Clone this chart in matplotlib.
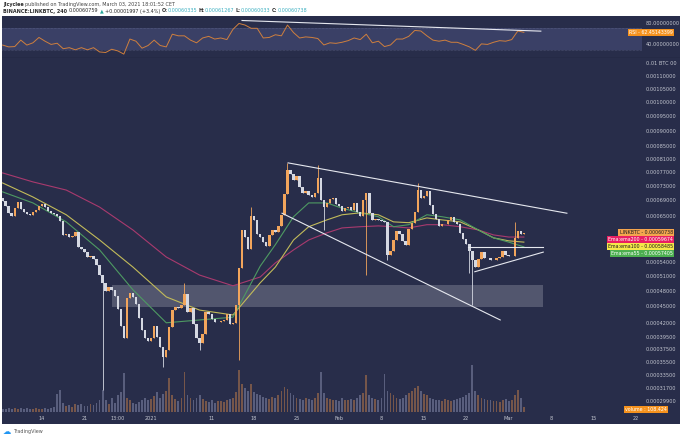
import matplotlib.pyplot as plt
import numpy as np
from matplotlib.patches import Rectangle
from matplotlib.ticker import NullLocator
from matplotlib.transforms import offset_copy

# prices in 1e-6 BTC, one candle per 12h, day 0 = Dec 14 2020
close = [688, 675, 656, 649, 669, 686, 667, 659, 654, 652,
         659, 664, 675, 680, 672, 662, 657, 654, 649, 637,
         602, 604, 597, 600, 609, 574, 569, 562, 551, 553,
         546, 533, 512, 496, 480, 488, 482, 470, 445, 414,
         393, 466, 476, 468, 454, 429, 407, 393, 388, 393,
         414, 395, 379, 363, 374, 412, 443, 449, 447, 452,
         474, 439, 447, 418, 393, 385, 400, 439, 436, 427,
         421, 421, 423, 425, 436, 418, 420, 452, 527, 614,
         597, 569, 649, 639, 604, 597, 585, 576, 602, 614,
         609, 624, 652, 707, 776, 764, 747, 759, 727, 710,
         715, 705, 699, 710, 753, 691, 672, 683, 694, 696,
         680, 675, 662, 669, 672, 664, 683, 659, 649, 691,
         710, 657, 639, 642, 639, 637, 634, 555, 565, 590,
         612, 604, 588, 579, 617, 632, 659, 718, 696, 702,
         715, 677, 654, 642, 624, 629, 629, 639, 647, 634,
         629, 607, 592, 581, 565, 544, 529, 546, 562, 548,
         548, 544, 544, 548, 551, 565, 555, 553, 553, 595,
         612, 604, 607]
open_first = 695
wick_high = {60: 496, 82: 672, 94: 797, 104: 791, 137: 738, 169: 634}
wick_low = {33: 314, 53: 347, 65: 374, 78: 358, 106: 614, 120: 512,
            127: 544, 154: 517, 155: 452}

volume = [70, 60, 90, 55, 80, 65, 75, 60, 85, 70, 60, 95, 70, 65, 80, 60, 75, 110,
          380, 460, 200,
          120, 150, 110, 180, 140, 160, 120, 130, 170, 150, 200, 260,
          470,
          250, 180, 300, 200, 350, 420,
          830,
          300, 250, 200, 180, 220, 260, 300,
          250, 280, 330, 420, 300, 380, 450, 720,
          350, 280, 240, 300, 850, 350, 300,
          260, 300, 350, 280, 240, 220, 260, 200, 240, 230, 210, 250, 280, 300, 420,
          900,
          600, 500, 450, 600, 420, 380, 350, 320, 300, 280, 320, 300,
          350, 450, 520, 480, 400, 350, 300, 280, 260, 300, 280, 250, 300, 400,
          850, 400, 300, 280, 260, 250, 240, 300, 260, 250, 280, 260, 300, 350, 400,
          780,
          350, 300, 280, 260, 300, 800, 450,
          400, 350, 300, 280, 300, 350, 400, 450, 500, 550, 450, 380, 350,
          300, 280, 260, 250, 240, 280, 260, 240, 250, 270, 300, 320, 350, 400,
          1000,
          450, 350, 300, 280, 250, 260, 240, 230, 220, 250, 280, 240, 260, 350, 470, 300, 110]

ema_days = [-6.5, -1.5, 4, 9.5, 15, 20.5, 26, 31.5, 36, 38.5, 41.5, 44, 47,
            49.5, 52.5, 55.5, 58, 60.5, 63.5, 66, 69, 72, 74.5, 77, 79.5]
ema200 = [767, 741, 718, 672, 614, 551, 512, 490, 508, 538, 567, 590, 607,
          619, 622, 624, 622, 619, 627, 627, 622, 614, 602, 597, 597]
ema100 = [738, 699, 652, 590, 529, 468, 443, 434, 496, 529, 590, 622, 639,
          652, 657, 652, 634, 632, 644, 639, 634, 614, 595, 588, 585]
ema55 = [713, 683, 634, 567, 482, 420, 425, 430, 531, 579, 647, 683, 683,
         669, 657, 647, 622, 627, 652, 647, 639, 614, 595, 585, 574]

# daily RSI(14)
rsi = [38.8, 35.4, 36, 48, 38.8, 43, 53, 46, 40, 42.2,
       32, 34, 30, 34, 30, 34, 26, 25, 31, 28,
       22, 50, 46, 33, 38, 48, 38, 35.4, 59, 56,
       56, 48, 43, 52, 55, 50, 52, 49, 68, 79,
       76, 70, 70, 52, 53, 58, 56, 76, 62, 52,
       54, 53, 51, 39, 43, 42, 44, 47, 52, 49,
       59, 43, 46, 36, 39, 50, 50, 55, 66, 65,
       56, 48, 46, 48, 44, 44, 40, 35.5, 29, 41,
       40, 44, 47, 46, 49, 65, 62.5]

price_ticks = [1153, 1100, 1050, 1000, 950, 900, 850, 810, 770, 730, 690, 650,
               540, 510, 480, 450, 420, 395, 375, 355, 335, 317, 299]
price_labels = ['0.01 BTC 00'] + ['%.8f' % (v * 1e-6) for v in price_ticks[1:]]
date_ticks = [0, 7, 12.54, 18, 28, 35, 42, 49, 56, 63, 70, 77, 84, 91, 98]
date_labels = ['14', '21', '13:00', '2021', '11', '18', '25', 'Feb', '8', '15',
               '22', 'Mar', '8', '15', '22']

zone = (11.5, 82.7, 449, 492)
trend_lines = [((40.6, 797), (86.6, 656)),
               ((39.6, 656), (75.6, 425)),
               ((70.3, 574), (82.7, 574)),
               ((71.4, 519), (82.7, 562))]
rsi_trend = ((33.0, 84.5), (82.3, 64.7))

last_labels = [('LINKBTC - 0.00060738', '#f4a54e', '#1b1b1b'),
               ('Ema:ema200 - 0.00059674', '#e91e63', 'white'),
               ('Ema:ema100 - 0.00058485', '#f5e84a', '#1b1b1b'),
               ('Ema:ema55 - 0.00057405', '#4caf50', 'white')]
last_close = 607.38
rsi_last = 62.45143399
vol_last = 108.424

# ---------------------------------------------------------------
W, H = 680, 438
BG = '#282d4a'
UP = '#f2a55c'
DOWN = '#d5d8e2'
TXT = '#c3c6d0'


def rect(x0, y0, x1, y1):
    return [x0 / W, 1 - y1 / H, (x1 - x0) / W, (y1 - y0) / H]


fig = plt.figure(figsize=(6.8, 4.38), dpi=100, facecolor='white')

bg = fig.add_axes(rect(2, 16, 680, 424))
bg.set_facecolor(BG)
bg.set_xticks([])
bg.set_yticks([])
for s in bg.spines.values():
    s.set_visible(False)

xlim = (-6.6, 105.26)
days = np.arange(len(close)) * 0.5 - 6.5
c = np.array(close, dtype=float)
o = np.r_[open_first, c[:-1]]
hi = np.maximum(o, c)
lo = np.minimum(o, c)
body_lo = lo.copy()
body_h = np.maximum(hi - lo, 0.8)
for i, v in wick_high.items():
    hi[i] = v
for i, v in wick_low.items():
    lo[i] = v
cols = np.where(c >= o, UP, DOWN)

# volume overlay (behind candles)
vax = fig.add_axes(rect(2, 58, 680, 412), facecolor='none')
vax.bar(days, volume, width=0.3, color=np.where(c >= o, '#c4804a', '#8a90b0'),
        alpha=0.5, lw=0)
vax.set_xlim(*xlim)
vax.set_ylim(0, 7500)
vax.axis('off')

ax = fig.add_axes(rect(2, 58, 680, 412), facecolor='none')
ax.set_yscale('function', functions=(lambda v: np.power(np.clip(v, 1e-9, None), 0.16),
                                     lambda v: np.power(np.clip(v, 0, None), 6.25)))
ax.set_xlim(*xlim)
ax.set_ylim(284.86, 1173.79)

ax.add_patch(Rectangle((zone[0], zone[2]), zone[1] - zone[0], zone[3] - zone[2],
                       facecolor='white', alpha=0.2, lw=0, zorder=1))
ax.plot(ema_days, ema200, color='#a93a6e', lw=0.8, zorder=2)
ax.plot(ema_days, ema100, color='#c2bb5a', lw=0.8, zorder=2)
ax.plot(ema_days, ema55, color='#4e9a62', lw=0.8, zorder=2)
ax.vlines(days, lo, hi, colors=cols, lw=0.6, zorder=3)
ax.bar(days, body_h, bottom=body_lo, width=0.4, color=cols, lw=0, zorder=3)
for (x0, y0), (x1, y1) in trend_lines:
    ax.plot([x0, x1], [y0, y1], color='#e6e8ef', lw=0.8, zorder=4)

ax.yaxis.set_minor_locator(NullLocator())
ax.set_yticks(price_ticks, price_labels)
ax.yaxis.tick_right()
ax.tick_params(axis='y', length=0, pad=-24.5, labelsize=3.6, labelcolor=TXT)
ax.set_xticks(date_ticks, date_labels)
ax.tick_params(axis='x', length=0, pad=2.6, labelsize=3.6, labelcolor=TXT)
for s in ax.spines.values():
    s.set_visible(False)

for k, (txt, fc, tc) in enumerate(last_labels):
    tr = offset_copy(ax.get_yaxis_transform(), fig=fig, x=0, y=-5.0 * k, units='points')
    ax.text(0.9895, last_close, txt, transform=tr, ha='right', va='center',
            fontsize=3.4, color=tc, zorder=6,
            bbox=dict(boxstyle='square,pad=0.25', fc=fc, ec='none'))

vtr = offset_copy(vax.get_yaxis_transform(), fig=fig, x=0, y=-2.0, units='points')
vax.text(0.9808, vol_last, 'volume : 108.424', transform=vtr,
         ha='right', va='center', fontsize=3.4, color='white',
         bbox=dict(boxstyle='square,pad=0.25', fc='#f5921e', ec='none'))

# RSI pane
rax = fig.add_axes(rect(2, 16, 680, 58), facecolor='none')
rax.set_xlim(*xlim)
rax.set_ylim(14.76, 92.86)
rax.axhspan(30, 70, xmin=0, xmax=0.944, color='#3a4066', lw=0)
for lvl in (30, 70):
    rax.axhline(lvl, xmax=0.944, color='#6a7094', lw=0.4, ls=(0, (1, 1.5)))
rax.plot(np.arange(len(rsi)) - 6.5, rsi, color='#cf7f3e', lw=0.7)
(rx0, ry0), (rx1, ry1) = rsi_trend
rax.plot([rx0, rx1], [ry0, ry1], color='#e6e8ef', lw=0.8)
rax.axhline(14.76, color='#1c2036', lw=1.0)
rax.set_xticks([])
rax.set_yticks([80, 40], ['80.00000000', '40.00000000'])
rax.yaxis.tick_right()
rax.tick_params(axis='y', length=0, pad=-24.5, labelsize=3.6, labelcolor=TXT)
for s in rax.spines.values():
    s.set_visible(False)
rax.text(0.9895, rsi_last, 'RSI - 62.45143399', transform=rax.get_yaxis_transform(),
         ha='right', va='center', fontsize=3.4, color='white',
         bbox=dict(boxstyle='square,pad=0.25', fc='#f5921e', ec='none'))

# header and footer
renderer = fig.canvas.get_renderer()


def chain(pieces, x, y, size):
    for txt, col, weight, gap in pieces:
        t = fig.text(x / W, 1 - y / H, txt, color=col, fontsize=size,
                     fontweight=weight, ha='left', va='center')
        x += t.get_window_extent(renderer).width + gap


DARK = '#2b2b2b'
TEAL = '#3fb1c2'
chain([('Jicyclee', DARK, 'bold', 1.5),
       ('published on TradingView.com, March 03, 2021 18:01:52 CET', '#444444', 'normal', 0)],
      3, 4.8, 3.5)
chain([('BINANCE:LINKBTC, 240', DARK, 'bold', 1.5),
       ('0.00060759', DARK, 'normal', 1.5),
       ('\u25b2', '#26a69a', 'normal', 1.5),
       ('+0.00001997 (+3.4%)', DARK, 'normal', 1.5),
       ('O:', DARK, 'bold', 0), ('0.00060335', TEAL, 'normal', 1.5),
       ('H:', DARK, 'bold', 0), ('0.00061267', TEAL, 'normal', 1.5),
       ('L:', DARK, 'bold', 0), ('0.00060033', TEAL, 'normal', 1.5),
       ('C:', DARK, 'bold', 0), ('0.00060738', TEAL, 'normal', 0)],
      3, 11, 3.5)
fig.text(3 / W, 1 - 432 / H, '\u2601', color='#2196f3', fontsize=6, ha='left', va='center')
fig.text(13 / W, 1 - 432 / H, 'TradingView', color='#555555', fontsize=3.5,
         ha='left', va='center')

fig.savefig('out.png', dpi=100, facecolor='white')
